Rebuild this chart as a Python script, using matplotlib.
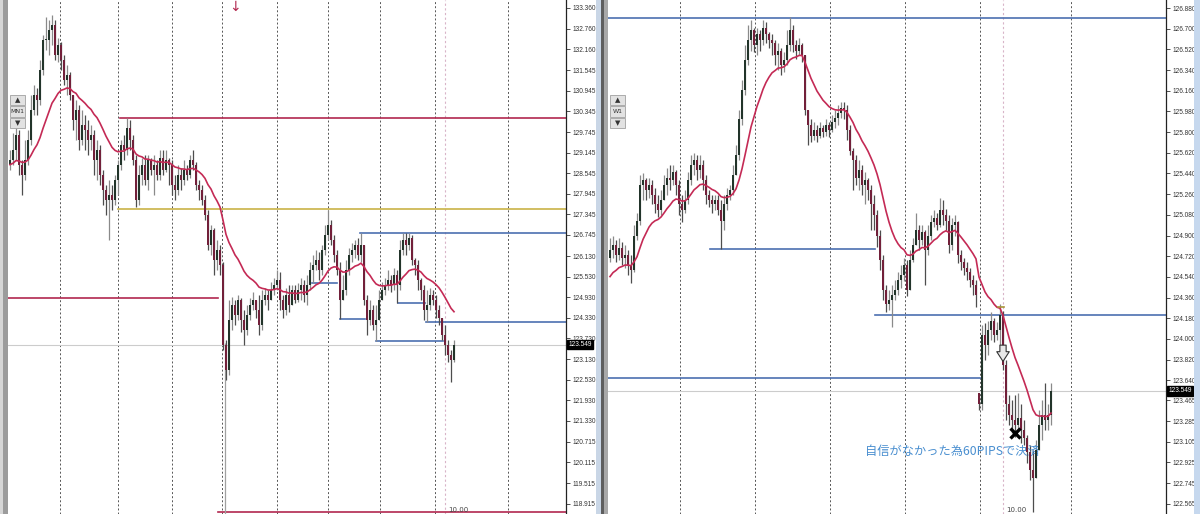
import matplotlib
matplotlib.use('Agg')
import matplotlib.pyplot as plt
import numpy as np
from matplotlib.patches import Rectangle

plt.rcParams['font.family'] = ['DejaVu Sans', 'Noto Sans CJK JP']

# ---------------- left chart (MN1) ----------------
l_open0 = 128.78
l_close = [128.93, 129.22, 129.66, 128.78, 128.49, 128.93, 129.51, 130.39, 130.82, 130.68,
           131.55, 132.43, 132.43, 132.72, 132.86, 131.99, 132.28, 131.84, 131.26, 131.41,
           130.82, 130.10, 130.39, 129.51, 129.95, 129.80, 129.51, 129.66, 128.93, 129.22,
           128.49, 128.06, 127.77, 127.91, 127.77, 128.35, 128.78, 129.37, 129.22, 129.86,
           129.51, 128.93, 127.77, 128.49, 128.78, 128.35, 128.93, 128.64, 128.78, 128.49,
           128.99, 128.64, 128.93, 128.78, 128.20, 128.06, 128.49, 128.35, 128.64, 128.49,
           128.93, 128.78, 128.20, 128.06, 127.77, 127.33, 126.45, 126.89, 126.02, 126.31,
           125.87, 123.54, 122.81, 124.27, 124.70, 124.40, 124.85, 124.27, 123.98, 124.40,
           124.70, 124.85, 124.56, 124.12, 124.85, 125.00, 124.85, 125.14, 125.29, 125.43,
           124.85, 124.56, 125.00, 124.70, 125.14, 124.85, 125.14, 125.29, 125.00, 125.29,
           125.73, 125.87, 126.02, 125.73, 126.31, 126.75, 127.04, 126.60, 126.16, 125.73,
           124.85, 125.14, 125.73, 126.16, 126.31, 126.45, 126.16, 126.45, 124.85, 124.27,
           124.56, 124.12, 124.27, 124.85, 125.14, 125.29, 125.43, 125.29, 125.58, 125.29,
           126.31, 126.60, 126.45, 126.66, 126.02, 125.87, 125.43, 125.14, 124.56, 124.70,
           125.00, 124.85, 124.56, 124.32, 123.83, 123.54, 123.25, 123.10, 123.55]
l_high = [129.22, 129.72, 129.86, 129.80, 128.93, 129.51, 129.80, 130.82, 131.12, 131.03,
          131.84, 132.57, 133.10, 133.01, 133.16, 133.01, 132.49, 132.37, 131.99, 131.70,
          131.49, 130.82, 130.68, 130.53, 130.39, 130.24, 130.10, 129.95, 129.80, 129.51,
          129.37, 128.64, 128.20, 128.35, 128.20, 128.49, 128.93, 129.51, 129.66, 130.15,
          130.10, 129.66, 129.08, 128.78, 128.99, 129.08, 129.08, 128.99, 129.08, 128.93,
          129.22, 129.22, 129.22, 128.99, 128.93, 128.49, 128.78, 128.70, 128.93, 128.78,
          129.08, 129.22, 128.87, 128.35, 128.20, 127.91, 127.47, 127.04, 126.95, 126.60,
          126.45, 125.96, 123.69, 124.85, 124.94, 124.85, 125.00, 124.91, 124.56, 124.70,
          124.91, 125.08, 124.85, 125.00, 125.14, 125.20, 125.14, 125.37, 125.49, 125.73,
          125.67, 125.00, 125.20, 125.29, 125.29, 125.29, 125.35, 125.49, 125.43, 125.58,
          125.96, 126.16, 126.31, 126.25, 126.45, 127.04, 127.47, 127.18, 126.75, 126.31,
          125.96, 125.58, 126.02, 126.37, 126.51, 126.60, 126.66, 126.80, 126.45, 125.00,
          124.85, 124.70, 124.70, 125.14, 125.37, 125.49, 125.73, 125.58, 125.78, 125.73,
          126.60, 126.80, 126.80, 126.80, 126.75, 126.07, 126.02, 125.49, 125.29, 125.14,
          125.20, 125.14, 125.00, 124.70, 124.32, 124.12, 123.69, 123.39, 123.69]
l_low = [128.64, 128.78, 128.93, 128.49, 127.91, 128.35, 128.78, 129.37, 130.24, 130.24,
         130.53, 131.41, 132.14, 131.99, 132.28, 131.84, 131.79, 131.55, 131.12, 130.82,
         130.68, 129.80, 129.51, 129.22, 129.37, 129.22, 129.08, 129.22, 128.49, 128.35,
         128.20, 127.62, 127.33, 126.60, 127.47, 127.62, 127.91, 128.64, 128.93, 129.08,
         129.22, 128.78, 127.56, 127.62, 128.20, 128.20, 128.06, 128.49, 127.91, 128.35,
         128.35, 128.49, 128.58, 128.20, 127.91, 127.77, 127.91, 128.06, 128.20, 128.35,
         128.41, 128.64, 128.06, 127.77, 127.62, 127.18, 126.31, 126.16, 125.58, 125.73,
         125.58, 123.39, 122.52, 122.66, 123.98, 124.12, 124.27, 123.92, 123.54, 123.83,
         124.27, 124.56, 124.32, 123.83, 123.98, 124.70, 124.56, 124.85, 125.00, 125.14,
         124.56, 124.32, 124.40, 124.50, 124.70, 124.76, 124.79, 124.85, 124.79, 124.70,
         125.14, 125.35, 125.73, 125.43, 125.58, 126.16, 126.60, 126.45, 125.96, 125.58,
         124.29, 124.85, 125.00, 125.58, 125.96, 126.07, 126.02, 125.96, 124.70, 123.83,
         124.12, 123.98, 123.66, 124.27, 124.85, 125.00, 125.14, 125.08, 125.14, 124.76,
         125.14, 126.16, 126.16, 126.31, 125.87, 125.58, 125.14, 124.85, 124.27, 124.21,
         124.56, 124.70, 124.32, 124.12, 123.69, 123.25, 123.04, 122.46, 123.04]
l_ma_seed = 128.78
l_ticks = [133.360, 132.760, 132.160, 131.545, 130.945, 130.345, 129.745, 129.145, 128.545,
           127.945, 127.345, 126.745, 126.130, 125.530, 124.930, 124.330, 123.730, 123.130,
           122.530, 121.930, 121.330, 120.715, 120.115, 119.515, 118.915]
# horizontal levels: price, from bar, to bar, colour
l_levels = [130.15, 127.50, 124.91, 126.80, 124.21, 123.66, 125.35, 124.29, 124.76, 118.67]
l_lvl_from = [36.7, 36.0, -1, 116.7, 138.7, 122.0, 100.7, 110.0, 129.3, 69.3]
l_lvl_to = [186, 186, 69.3, 186, 186, 144.3, 109.0, 118.3, 138.3, 186]
l_lvl_col = ['#b2284f', '#c9b347', '#b2284f', '#4c6fb0', '#4c6fb0', '#4c6fb0',
             '#4c6fb0', '#4c6fb0', '#4c6fb0', '#b2284f']
l_vgrid = [16.7, 36.0, 54.0, 70.7, 89.0, 106.0, 123.3, 141.7, 166.0]
l_sep = 145.0

# ---------------- right chart (W1) ----------------
r_open0 = 124.70
r_gap_open = {123: 123.53}
r_close = [124.77, 124.82, 124.73, 124.79, 124.70, 124.73, 124.64, 124.60, 124.90, 125.03,
           125.34, 125.38, 125.30, 125.34, 125.25, 125.17, 125.12, 125.21, 125.34, 125.40,
           125.38, 125.45, 125.34, 125.17, 125.12, 125.21, 125.38, 125.51, 125.56, 125.47,
           125.51, 125.38, 125.25, 125.21, 125.17, 125.21, 125.12, 125.03, 125.17, 125.25,
           125.30, 125.43, 125.60, 125.91, 126.17, 126.43, 126.60, 126.69, 126.56, 126.65,
           126.60, 126.71, 126.65, 126.60, 126.58, 126.47, 126.51, 126.38, 126.43, 126.56,
           126.69, 126.56, 126.51, 126.56, 126.47, 125.99, 125.86, 125.77, 125.82, 125.77,
           125.84, 125.80, 125.86, 125.82, 125.89, 125.92, 125.97, 126.01, 125.99, 125.82,
           125.64, 125.56, 125.40, 125.47, 125.34, 125.38, 125.30, 125.17, 125.08, 124.90,
           124.69, 124.43, 124.30, 124.34, 124.38, 124.43, 124.51, 124.56, 124.64, 124.43,
           124.69, 124.82, 124.95, 124.86, 124.93, 124.77, 124.90, 125.02, 125.05, 124.99,
           125.12, 125.08, 125.03, 124.82, 124.99, 125.02, 124.73, 124.67, 124.62, 124.58,
           124.51, 124.47, 124.38, 123.43, 124.03, 123.95, 124.08, 124.16, 124.03, 124.08,
           124.21, 123.77, 123.43, 123.34, 123.29, 123.25, 123.31, 123.21, 123.14, 123.02,
           122.86, 122.79, 123.03, 123.25, 123.34, 123.29, 123.34, 123.55]
r_high = [124.88, 124.90, 124.86, 124.88, 124.84, 124.82, 124.77, 124.73, 124.99, 125.10,
          125.43, 125.44, 125.40, 125.40, 125.38, 125.31, 125.25, 125.30, 125.43, 125.49,
          125.51, 125.51, 125.47, 125.38, 125.25, 125.30, 125.45, 125.60, 125.62, 125.60,
          125.60, 125.56, 125.43, 125.30, 125.25, 125.25, 125.25, 125.21, 125.25, 125.31,
          125.34, 125.51, 125.69, 125.99, 126.25, 126.56, 126.73, 126.78, 126.71, 126.71,
          126.69, 126.78, 126.76, 126.67, 126.65, 126.60, 126.58, 126.53, 126.50, 126.69,
          126.80, 126.73, 126.60, 126.62, 126.58, 126.47, 125.99, 125.91, 125.89, 125.86,
          125.89, 125.86, 125.91, 125.89, 125.95, 125.99, 126.04, 126.06, 126.06, 126.04,
          125.86, 125.66, 125.60, 125.56, 125.51, 125.45, 125.40, 125.34, 125.25, 125.12,
          124.95, 124.73, 124.47, 124.43, 124.47, 124.51, 124.58, 124.64, 124.70, 124.69,
          124.77, 124.88, 125.10, 124.99, 124.99, 124.95, 124.99, 125.08, 125.12, 125.10,
          125.23, 125.21, 125.13, 125.08, 125.05, 125.08, 125.03, 124.77, 124.70, 124.67,
          124.62, 124.56, 124.51, 123.53, 124.12, 124.14, 124.16, 124.23, 124.18, 124.15,
          124.30, 124.24, 123.82, 123.51, 123.47, 123.51, 123.53, 123.43, 123.29, 123.16,
          123.08, 123.03, 123.12, 123.38, 123.47, 123.62, 123.43, 123.62]
r_low = [124.67, 124.70, 124.67, 124.69, 124.64, 124.62, 124.56, 124.49, 124.58, 124.86,
         124.99, 125.21, 125.21, 125.23, 125.17, 125.10, 125.06, 125.08, 125.21, 125.25,
         125.30, 125.34, 125.25, 125.08, 125.02, 125.10, 125.17, 125.34, 125.43, 125.38,
         125.40, 125.30, 125.17, 125.15, 125.10, 125.12, 125.08, 124.78, 124.95, 125.12,
         125.21, 125.25, 125.43, 125.56, 125.86, 126.12, 126.38, 126.51, 126.50, 126.47,
         126.51, 126.56, 126.58, 126.53, 126.47, 126.38, 126.34, 126.30, 126.32, 126.38,
         126.51, 126.50, 126.44, 126.47, 126.41, 125.95, 125.69, 125.71, 125.73, 125.71,
         125.75, 125.76, 125.77, 125.76, 125.80, 125.84, 125.86, 125.92, 125.91, 125.73,
         125.60, 125.30, 125.34, 125.30, 125.25, 125.17, 125.21, 124.95, 124.95, 124.80,
         124.60, 124.34, 124.23, 124.25, 124.10, 124.34, 124.38, 124.44, 124.50, 124.37,
         124.47, 124.67, 124.82, 124.77, 124.82, 124.47, 124.73, 124.86, 124.97, 124.95,
         124.97, 124.99, 124.95, 124.75, 124.77, 124.90, 124.66, 124.60, 124.56, 124.51,
         124.45, 124.38, 124.28, 123.38, 123.38, 123.82, 123.86, 123.99, 123.97, 123.99,
         123.95, 123.73, 123.29, 123.25, 123.18, 123.15, 123.21, 123.09, 123.08, 122.92,
         122.77, 122.49, 122.90, 123.08, 123.12, 123.21, 123.21, 123.25]
r_ma_seed = 124.51
r_ticks = [126.880, 126.700, 126.520, 126.340, 126.160, 125.980, 125.800, 125.620, 125.440,
           125.260, 125.080, 124.900, 124.720, 124.540, 124.360, 124.180, 124.000, 123.820,
           123.640, 123.465, 123.285, 123.105, 122.925, 122.745, 122.565]
r_levels = [126.79, 124.78, 124.21, 123.66]
r_lvl_from = [-1, 33.3, 88.3, -1]
r_lvl_to = [186, 88.3, 186, 123.3]
r_vgrid = [23.3, 48.3, 73.3, 98.3, 123.3, 153.7]
r_sep = 131.0

last_price = 123.549
note = '自信がなかった為60PIPSで決済'

axis_font = ['Liberation Sans', 'DejaVu Sans']


def ema(close, seed, n):
    a = 2.0 / (n + 1)
    out = []
    v = seed
    for c in close:
        v = v + a * (c - v)
        out.append(v)
    return out


def candles(ax, o, h, l, c, minbody):
    x = np.arange(len(c))
    o = np.array(o); h = np.array(h); l = np.array(l); c = np.array(c)
    h = np.maximum(h, np.maximum(o, c))
    l = np.minimum(l, np.minimum(o, c))
    up = c >= o
    ax.vlines(x[up], l[up], h[up], color='#8a8a8a', lw=0.9, zorder=3)
    ax.vlines(x[~up], l[~up], h[~up], color='#4d4d4d', lw=0.9, zorder=3)
    body = c - o
    body = np.where(np.abs(body) < minbody, np.where(body >= 0, minbody, -minbody), body)
    ax.bar(x[up], body[up], bottom=o[up], width=0.68, color='#22342a', lw=0, zorder=4)
    ax.bar(x[~up], body[~up], bottom=o[~up], width=0.68, color='#72203a', lw=0, zorder=4)


def frame(ax, ylim, ticks, vgrid, sep):
    ax.set_xlim(-0.667, 185.33)
    ax.set_ylim(*ylim)
    ax.set_xticks([])
    ax.yaxis.tick_right()
    ax.set_yticks(ticks)
    ax.set_yticklabels(['%.3f' % t for t in ticks])
    ax.tick_params(axis='y', length=3, width=0.6, pad=1.5, colors='#333333', labelsize=4.7)
    for t in ax.get_yticklabels():
        t.set_family(axis_font)
    for s in ['top', 'bottom', 'left']:
        ax.spines[s].set_visible(False)
    ax.spines['right'].set_color('#222222')
    ax.spines['right'].set_linewidth(0.9)
    for v in vgrid:
        ax.axvline(v, color='#555555', ls=(0, (2, 2.2)), lw=0.7, zorder=1)
    ax.axvline(sep, color='#d8b4c8', ls=(0, (2, 2.2)), lw=0.8, zorder=1)
    ax.axhline(last_price, color='#cccccc', lw=0.8, zorder=1)
    ax.text(1.004, last_price, '%.3f' % last_price, transform=ax.get_yaxis_transform(),
            ha='left', va='center', fontsize=4.7, color='white', family=axis_font,
            bbox=dict(boxstyle='square,pad=0.2', fc='black', ec='black'), zorder=10, clip_on=False)


fig = plt.figure(figsize=(12, 5.14), dpi=100)
fig.patch.set_facecolor('white')

axl = fig.add_axes([8 / 1200, 0, 558 / 1200, 1])
axr = fig.add_axes([608 / 1200, 0, 558 / 1200, 1])

# left panel
frame(axl, (118.613, 133.593), l_ticks, l_vgrid, l_sep)
l_open = [l_open0] + l_close[:-1]
candles(axl, l_open, l_high, l_low, l_close, 0.02)
axl.plot(np.arange(len(l_close)), ema(l_close, l_ma_seed, 20), color='#c42a55', lw=1.2, zorder=5)
for p, a, b, col in zip(l_levels, l_lvl_from, l_lvl_to, l_lvl_col):
    axl.plot([a, b], [p, p], color=col, lw=1.2, zorder=2)
axl.vlines(71.7, 118.0, 123.6, color='#a0a0a0', lw=0.9, zorder=2)
axl.text(75, 133.40, '↓', color='#b2284f', fontsize=10, ha='center', va='center')
axl.text(146, 118.63, '10.00', fontsize=5, color='#444444', va='bottom', ha='left')

# right panel
frame(axr, (122.476, 126.950), r_ticks, r_vgrid, r_sep)
r_open = [r_open0] + r_close[:-1]
for k, v in r_gap_open.items():
    r_open[k] = v
candles(axr, r_open, r_high, r_low, r_close, 0.008)
axr.plot(np.arange(len(r_close)), ema(r_close, r_ma_seed, 15), color='#c42a55', lw=1.2, zorder=5)
for p, a, b in zip(r_levels, r_lvl_from, r_lvl_to):
    axr.plot([a, b], [p, p], color='#4c6fb0', lw=1.2, zorder=2)
axr.plot([129.3, 131.2], [124.28, 124.28], color='#a89236', lw=1.2, zorder=6)
axr.annotate('', xy=(131, 123.78), xytext=(131, 123.97),
             arrowprops=dict(arrowstyle='simple,head_width=0.9,head_length=0.7,tail_width=0.45',
                             fc='#e8e8e8', ec='#333333', lw=0.8), zorder=7)
axr.plot(135, 123.18, marker='x', ms=7, mew=2.4, color='black', zorder=8)
axr.text(85, 123.02, note, color='#4a8fd0', fontsize=8.8, va='center', ha='left',
         family=['Noto Sans CJK JP', 'DejaVu Sans'])
axr.text(132, 122.482, '10.00', fontsize=5, color='#444444', va='bottom', ha='left')


def fpx(x0, y0, w, h, col):
    fig.add_artist(Rectangle((x0 / 1200, 1 - (y0 + h) / 514), w / 1200, h / 514,
                             transform=fig.transFigure, fc=col, ec='none', zorder=20))


# window borders
fpx(0, 0, 3, 514, '#d6d6d6')
fpx(3, 0, 5, 514, '#9c9c9c')
fpx(596, 0, 5, 514, '#c9d6e6')
fpx(601, 0, 3, 514, '#5e5e5e')
fpx(604, 0, 4, 514, '#a8a8a8')
fpx(1194, 0, 6, 514, '#c6d8ee')

# timeframe buttons
for bx, lab in [(10, 'MN1'), (610, 'W1')]:
    for by, txt, h in [(95, '▲', 10), (106, lab, 11), (118, '▼', 10)]:
        fig.add_artist(Rectangle((bx / 1200, 1 - (by + h) / 514), 15 / 1200, h / 514,
                                 transform=fig.transFigure, fc='#e2e2e2', ec='#a0a0a0',
                                 lw=0.6, zorder=21))
        fig.text((bx + 7.5) / 1200, 1 - (by + h / 2) / 514, txt, fontsize=4.5 if len(txt) > 1 else 5,
                 ha='center', va='center', color='#333333', zorder=22)

fig.savefig('out.png', dpi=100)
